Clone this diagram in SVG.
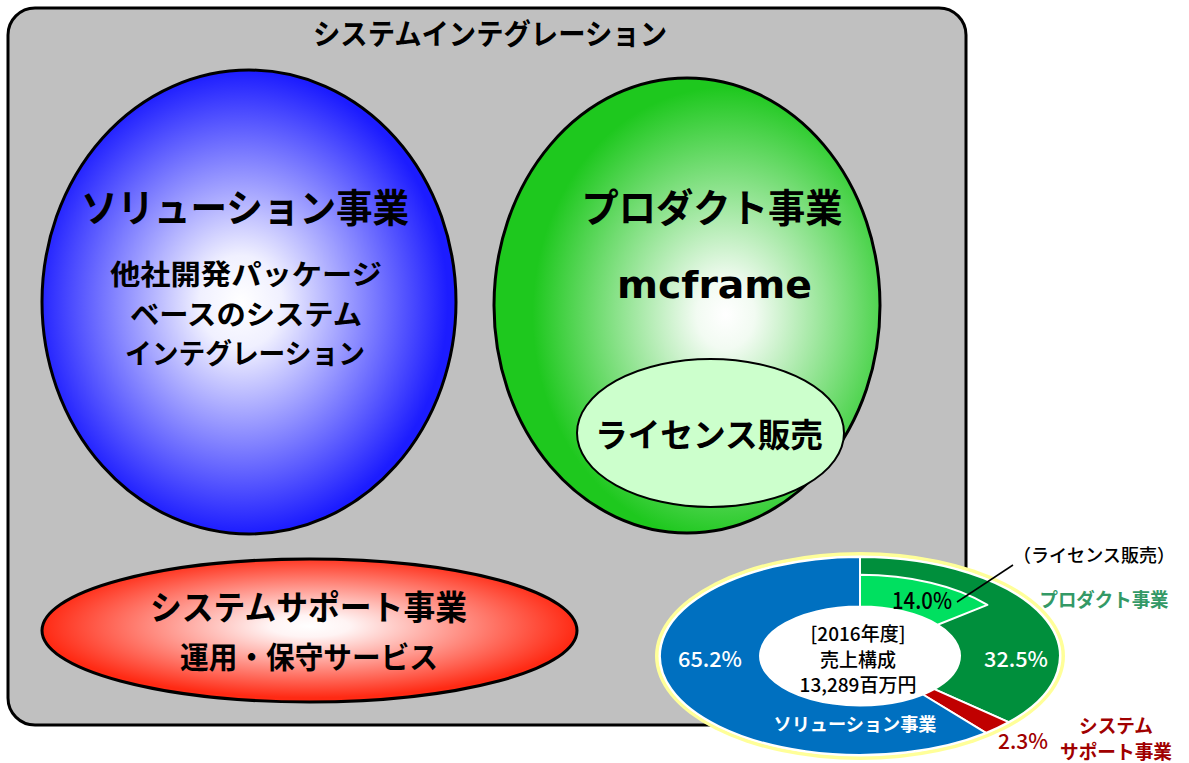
<svg xmlns="http://www.w3.org/2000/svg" width="1189" height="763" viewBox="0 0 1189 763">
<defs>
<radialGradient id="gBlue" cx="0.48" cy="0.5" r="0.5">
<stop offset="0" stop-color="#ffffff"/>
<stop offset="0.2" stop-color="#f0f0ff"/>
<stop offset="1" stop-color="#1c1cff"/>
</radialGradient>
<radialGradient id="gGreen" cx="0.6" cy="0.52" r="0.5">
<stop offset="0" stop-color="#ffffff"/>
<stop offset="0.15" stop-color="#f2fbf2"/>
<stop offset="1" stop-color="#1ec81e"/>
</radialGradient>
<radialGradient id="gRed" cx="0.5" cy="0.47" r="0.5">
<stop offset="0" stop-color="#ffffff"/>
<stop offset="0.15" stop-color="#fff4f4"/>
<stop offset="1" stop-color="#ff2a14"/>
</radialGradient>
<style>
.jp{font-family:"Noto Sans CJK JP","Noto Sans CJK SC",sans-serif;}
.b{font-weight:bold;}
.m{font-weight:500;}
.node{stroke:#000;stroke-width:3;}
.mid{text-anchor:middle;}
.slice{stroke:#fff;stroke-width:2;stroke-linejoin:round;}
</style>
</defs>
<rect width="1189" height="763" fill="#ffffff"/>
<g id="system-integration">
<rect x="8" y="8" width="958" height="717" rx="27" ry="27" fill="#c0c0c0" stroke="#000" stroke-width="3"/>
<text class="jp b mid" x="490" y="45" font-size="29" textLength="354" lengthAdjust="spacingAndGlyphs">システムインテグレーション</text>
</g>
<g id="solution">
<ellipse class="node" cx="249" cy="302" rx="207" ry="232" fill="url(#gBlue)"/>
<text class="jp b mid" x="245" y="222" font-size="39" textLength="328" lengthAdjust="spacingAndGlyphs">ソリューション事業</text>
<text class="jp b mid" x="246" y="285" font-size="28" textLength="272" lengthAdjust="spacingAndGlyphs">他社開発パッケージ</text>
<text class="jp b mid" x="246" y="325" font-size="28" textLength="232" lengthAdjust="spacingAndGlyphs">ベースのシステム</text>
<text class="jp b mid" x="245" y="364" font-size="28" textLength="240" lengthAdjust="spacingAndGlyphs">インテグレーション</text>
</g>
<g id="product">
<ellipse class="node" cx="687" cy="305.5" rx="193" ry="227.5" fill="url(#gGreen)"/>
<text class="jp b mid" x="712" y="222" font-size="39" textLength="261" lengthAdjust="spacingAndGlyphs">プロダクト事業</text>
<text class="b mid" x="714.5" y="298" font-size="38" font-family="DejaVu Sans, sans-serif" textLength="195" lengthAdjust="spacingAndGlyphs">mcframe</text>
</g>
<g id="license">
<ellipse cx="710.5" cy="433" rx="133.5" ry="74" fill="#ccffcc" stroke="#000" stroke-width="2"/>
<text class="jp b mid" x="709" y="447" font-size="33" textLength="228" lengthAdjust="spacingAndGlyphs">ライセンス販売</text>
</g>
<g id="system-support">
<ellipse class="node" cx="309.5" cy="630.5" rx="267.5" ry="71.5" fill="url(#gRed)"/>
<text class="jp b mid" x="308.5" y="620" font-size="34" textLength="317" lengthAdjust="spacingAndGlyphs">システムサポート事業</text>
<text class="jp b mid" x="309" y="668" font-size="30" textLength="258" lengthAdjust="spacingAndGlyphs">運用・保守サービス</text>
</g>
<g id="sales-chart">
<ellipse cx="860" cy="656" rx="205" ry="104" fill="#ffff99"/>
<ellipse cx="860" cy="656" rx="201.5" ry="100.5" fill="#ffffff"/>
<path class="slice" fill="#008f3c" d="M860,557 A200,99 0 0 1 1008.6,722.2 L934.3,689.1 A100,49.5 0 0 0 860,606.5 Z"/>
<path class="slice" fill="#c00000" d="M1008.6,722.2 A200,99 0 0 1 985.9,732.9 L922.9,694.5 A100,49.5 0 0 0 934.3,689.1 Z"/>
<path class="slice" fill="#0070c0" d="M985.9,732.9 A200,99 0 1 1 860,557 L860,606.5 A100,49.5 0 1 0 922.9,694.5 Z"/>
<path class="slice" fill="#00e060" d="M860,574.8 A164,81.2 0 0 1 987.4,604.9 L937.7,624.8 A100,49.5 0 0 0 860,606.5 Z"/>
<ellipse cx="860" cy="656" rx="100" ry="49.5" fill="#ffffff"/>
<text class="jp m mid" x="858" y="641" font-size="19">[2016年度]</text>
<text class="jp m mid" x="858" y="667" font-size="19">売上構成</text>
<text class="jp m mid" x="858" y="692" font-size="19">13,289百万円</text>
<text class="jp m mid" x="922" y="609" font-size="23" textLength="60" lengthAdjust="spacingAndGlyphs">14.0%</text>
<text class="jp m mid" x="1016" y="667" font-size="21" fill="#ffffff" textLength="64" lengthAdjust="spacingAndGlyphs">32.5%</text>
<text class="jp m mid" x="710" y="667" font-size="21" fill="#ffffff" textLength="64" lengthAdjust="spacingAndGlyphs">65.2%</text>
<text class="jp b mid" x="855" y="731" font-size="18" fill="#ffffff" textLength="163" lengthAdjust="spacingAndGlyphs">ソリューション事業</text>
<text class="jp m mid" x="1023" y="749" font-size="21" fill="#a00000" textLength="50" lengthAdjust="spacingAndGlyphs">2.3%</text>
</g>
<g id="connectors">
<line x1="957" y1="602" x2="1013" y2="565" stroke="#000" stroke-width="1.5"/>
</g>
<g id="chart-labels">
<text class="jp m mid" x="1094" y="562" font-size="18" textLength="162" lengthAdjust="spacingAndGlyphs">（ライセンス販売）</text>
<text class="jp b mid" x="1104" y="607" font-size="19" fill="#339966" textLength="129" lengthAdjust="spacingAndGlyphs">プロダクト事業</text>
<text class="jp b mid" x="1116" y="733" font-size="19" fill="#a00000" textLength="74" lengthAdjust="spacingAndGlyphs">システム</text>
<text class="jp b mid" x="1116" y="759" font-size="19" fill="#a00000" textLength="112" lengthAdjust="spacingAndGlyphs">サポート事業</text>
</g>
</svg>
